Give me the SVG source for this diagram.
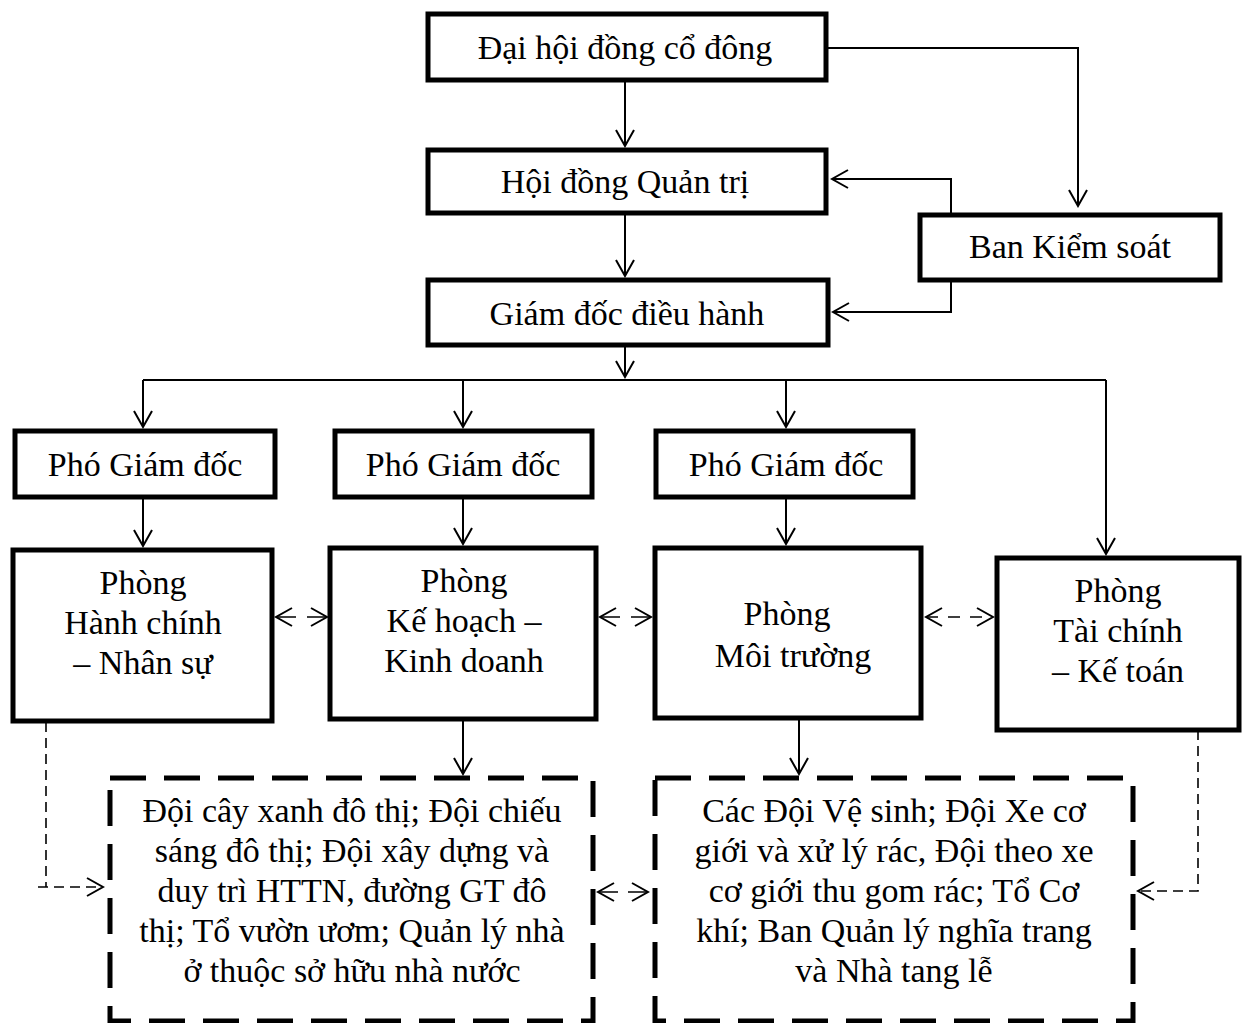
<svg xmlns="http://www.w3.org/2000/svg" width="1246" height="1023" viewBox="0 0 1246 1023">
<defs>
<marker id="a" viewBox="-18 -11 20 22" refX="0" refY="0" markerWidth="20" markerHeight="22" markerUnits="userSpaceOnUse" orient="auto-start-reverse">
<path d="M-16,-9 L0,0 L-16,9" fill="none" stroke="#000" stroke-width="2"/>
</marker>
</defs>
<style>
.box{fill:#fff;stroke:#000;stroke-width:5}
.dbox{fill:#fff;stroke:#000;stroke-width:5;stroke-dasharray:36 18}
.t{font-family:"Liberation Serif","Times New Roman",serif;font-size:34px;fill:#000;text-anchor:middle}
.c{fill:none;stroke:#000;stroke-width:2}
.cd{fill:none;stroke:#000;stroke-width:1.6;stroke-dasharray:10 6}
.ca{marker-end:url(#a)}
.cb{marker-start:url(#a);marker-end:url(#a)}
</style>
<rect width="1246" height="1023" fill="#fff"/>
<g id="connectors">
<line class="c ca" x1="625" y1="80" x2="625" y2="146"/>
<polyline class="c ca" points="826,48 1078,48 1078,206"/>
<polyline class="c ca" points="951,213 951,179 832,179"/>
<polyline class="c ca" points="951,282 951,312 833,312"/>
<line class="c ca" x1="625" y1="213" x2="625" y2="276"/>
<line class="c ca" x1="625" y1="345" x2="625" y2="377"/>
<line class="c" x1="143" y1="380" x2="1106" y2="380"/>
<line class="c ca" x1="143" y1="380" x2="143" y2="427"/>
<line class="c ca" x1="463" y1="380" x2="463" y2="427"/>
<line class="c ca" x1="786" y1="380" x2="786" y2="427"/>
<line class="c ca" x1="1106" y1="380" x2="1106" y2="554"/>
<line class="c ca" x1="143" y1="497" x2="143" y2="546"/>
<line class="c ca" x1="463" y1="497" x2="463" y2="544"/>
<line class="c ca" x1="786" y1="497" x2="786" y2="544"/>
<line class="cd cb" x1="276" y1="617" x2="327" y2="617" style="stroke-dasharray:20 11"/>
<line class="cd cb" x1="600" y1="617" x2="651" y2="617" style="stroke-dasharray:20 11"/>
<line class="cd cb" x1="926" y1="617" x2="993" y2="617" style="stroke-dasharray:12 10"/>
<line class="c ca" x1="463" y1="720" x2="463" y2="774"/>
<line class="c ca" x1="799" y1="715" x2="799" y2="774"/>
<path class="cd ca" d="M46,722 V887 M38,887 H103"/>
<polyline class="cd ca" points="1198,730 1198,891 1138,891"/>
<line class="cd cb" x1="598" y1="892" x2="648" y2="892" style="stroke-dasharray:20 10"/>
</g>
<g id="n-daihoi"><rect class="box" x="428" y="14" width="398" height="66"/><text class="t" x="625" y="59">Đại hội đồng cổ đông</text></g>
<g id="n-hdqt"><rect class="box" x="428" y="150" width="398" height="63"/><text class="t" x="625" y="193">Hội đồng Quản trị</text></g>
<g id="n-bks"><rect class="box" x="920" y="215" width="300" height="65"/><text class="t" x="1070" y="258">Ban Kiểm soát</text></g>
<g id="n-gd"><rect class="box" x="428" y="280" width="400" height="65"/><text class="t" x="627" y="325">Giám đốc điều hành</text></g>
<g id="n-pgd1"><rect class="box" x="15" y="431" width="260" height="66"/><text class="t" x="145" y="476">Phó Giám đốc</text></g>
<g id="n-pgd2"><rect class="box" x="335" y="431" width="257" height="66"/><text class="t" x="463" y="476">Phó Giám đốc</text></g>
<g id="n-pgd3"><rect class="box" x="656" y="431" width="257" height="66"/><text class="t" x="786" y="476">Phó Giám đốc</text></g>
<g id="n-p1"><rect class="box" x="13" y="550" width="259" height="171"/><text class="t" x="143" y="594">Phòng</text><text class="t" x="143" y="634">Hành chính</text><text class="t" x="143" y="674">– Nhân sự</text></g>
<g id="n-p2"><rect class="box" x="330" y="548" width="266" height="171"/><text class="t" x="464" y="592">Phòng</text><text class="t" x="464" y="632">Kế hoạch –</text><text class="t" x="464" y="672">Kinh doanh</text></g>
<g id="n-p3"><rect class="box" x="655" y="548" width="266" height="170"/><text class="t" x="787" y="625">Phòng</text><text class="t" x="793" y="667">Môi trường</text></g>
<g id="n-p4"><rect class="box" x="997" y="558" width="242" height="172"/><text class="t" x="1118" y="602">Phòng</text><text class="t" x="1118" y="642">Tài chính</text><text class="t" x="1118" y="682">– Kế toán</text></g>
<g id="n-d1"><rect class="dbox" x="110" y="778" width="483" height="243"/>
<text class="t" x="352" y="822">Đội cây xanh đô thị; Đội chiếu</text>
<text class="t" x="352" y="862">sáng đô thị; Đội xây dựng và</text>
<text class="t" x="352" y="902">duy trì HTTN, đường GT đô</text>
<text class="t" x="352" y="942">thị; Tổ vườn ươm; Quản lý nhà</text>
<text class="t" x="352" y="982">ở thuộc sở hữu nhà nước</text></g>
<g id="n-d2"><rect class="dbox" x="655" y="778" width="478" height="243"/>
<text class="t" x="894" y="822">Các Đội Vệ sinh; Đội Xe cơ</text>
<text class="t" x="894" y="862">giới và xử lý rác, Đội theo xe</text>
<text class="t" x="894" y="902">cơ giới thu gom rác; Tổ Cơ</text>
<text class="t" x="894" y="942">khí; Ban Quản lý nghĩa trang</text>
<text class="t" x="894" y="982">và Nhà tang lễ</text></g>
</svg>
